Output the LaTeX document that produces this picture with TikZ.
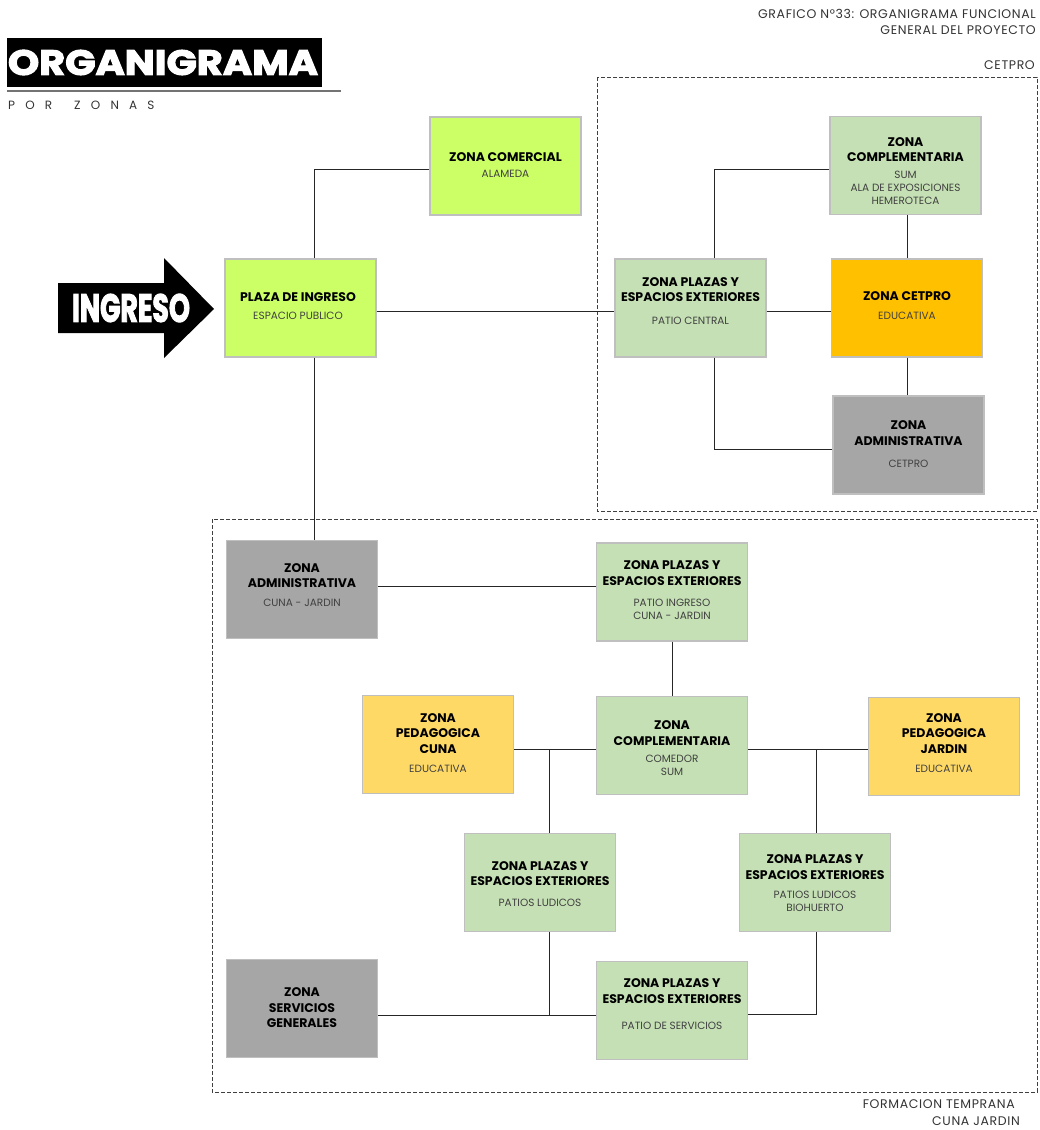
\documentclass[tikz,border=0pt]{standalone}
\usepackage{fontspec}
\usepackage{graphicx}
\setmainfont{Poppins}
\newfontfamily\heavy[FakeBold=3]{Poppins}
\newfontfamily\spaced[LetterSpace=85]{Poppins}
\definecolor{limeG}{HTML}{CCFF66}
\definecolor{paleG}{HTML}{C5E0B4}
\definecolor{orangeC}{HTML}{FFC000}
\definecolor{grayZ}{HTML}{A6A6A6}
\definecolor{yellowP}{HTML}{FFD966}
\definecolor{edgeG}{HTML}{BFBFBF}
\definecolor{subT}{HTML}{404040}
\newcommand\tb[1]{{\bfseries #1}}
\newcommand\ts[1]{{\color{subT}\fontsize{10.5}{15.5}\selectfont #1}}
\tikzset{
  zbox/.style={draw=edgeG, line width=1.3pt, minimum width=151pt, minimum height=98pt, inner sep=0pt},
  zt/.style={align=center, inner sep=0pt, font=\fontsize{12.5}{15.5}\selectfont},
  con/.style={draw=black!85, line width=0.9pt},
  frame/.style={draw=black!75, dash pattern=on 4pt off 2pt, line width=0.9pt},
  lbl/.style={inner sep=0pt, font=\addfontfeature{LetterSpace=5}\fontsize{12.5}{14}\selectfont, text=black!80},
  sub/.style={inner sep=0pt, anchor=west, text=black!80, font=\spaced\fontsize{12}{14}\selectfont}
}
\begin{document}
\begin{tikzpicture}[x=1pt,y=-1pt]
\useasboundingbox (0,0) rectangle (1040,1130);
% frames
\draw[frame] (597,77) rectangle (1037,511);
\draw[frame] (212,519) rectangle (1037,1092);
% header
\node[lbl, anchor=east] (h1) at (1036,14) {GRAFICO N°33: ORGANIGRAMA FUNCIONAL};
\node[lbl, anchor=east] (h2) at (1036,30) {GENERAL DEL PROYECTO};
\node[lbl, anchor=east] (h3) at (1035,65) {CETPRO};
\node[lbl, anchor=east] (f1) at (1015,1104) {FORMACION TEMPRANA};
\node[lbl, anchor=east] (f2) at (1020,1121) {CUNA JARDIN};
% title
\fill[black] (7,38) rectangle (322,87);
\node[inner sep=0pt, text=white] (title) at (163,62.5) {\resizebox{310pt}{25pt}{\heavy\bfseries ORGANIGRAMA}};
\draw[black!55, line width=1.3pt] (7,91) -- (341,91);
\node[sub] (sub1) at (8,105) {POR};
\node[sub] (sub2) at (74,105) {ZONAS};
% arrow
\fill[black] (58,283) -- (164,283) -- (164,258) -- (214,309) -- (164,358) -- (164,333) -- (58,333) -- cycle;
\node[inner sep=0pt, text=white] (ing) at (131,308) {\resizebox{118pt}{28pt}{\heavy\bfseries INGRESO}};
% boxes
\node[zbox, fill=limeG] (com) at (505.5,166) {};
\node[zt] at (505.5,165) {\tb{ZONA COMERCIAL}\\[0.5pt]\ts{ALAMEDA}};
\node[zbox, fill=limeG] (plz) at (300.5,308) {};
\node[zt] at (298,306) {\tb{PLAZA DE INGRESO}\\[2.5pt]\ts{ESPACIO PUBLICO}};
\node[zbox, fill=paleG] (pc) at (690.5,308) {};
\node[zt] at (690.5,301) {\tb{ZONA PLAZAS Y}\\\tb{ESPACIOS EXTERIORES}\\[7.5pt]\ts{PATIO CENTRAL}};
\node[zbox, fill=paleG] (cmpT) at (905.5,165.5) {};
\node[zt] at (905.5,171) {\tb{ZONA}\\\tb{COMPLEMENTARIA}\\[1.5pt]\ts{SUM}\\[-2.5pt]\ts{ALA DE EXPOSICIONES}\\[-2.5pt]\ts{HEMEROTECA}};
\node[zbox, fill=orangeC] (cet) at (907,308) {};
\node[zt] at (907,306) {\tb{ZONA CETPRO}\\[3.5pt]\ts{EDUCATIVA}};
\node[zbox, fill=grayZ] (admC) at (908.5,445) {};
\node[zt] at (908.5,444) {\tb{ZONA}\\\tb{ADMINISTRATIVA}\\[6.5pt]\ts{CETPRO}};
\node[zbox, fill=grayZ] (admJ) at (302,589.5) {};
\node[zt] at (302,585) {\tb{ZONA}\\\tb{ADMINISTRATIVA}\\[3.5pt]\ts{CUNA - JARDIN}};
\node[zbox, fill=paleG] (pi) at (672,592) {};
\node[zt] at (672,590) {\tb{ZONA PLAZAS Y}\\\tb{ESPACIOS EXTERIORES}\\[5.5pt]\ts{PATIO INGRESO}\\[-2.5pt]\ts{CUNA - JARDIN}};
\node[zbox, fill=yellowP] (pcu) at (438,744.5) {};
\node[zt] at (438,743) {\tb{ZONA}\\\tb{PEDAGOGICA}\\\tb{CUNA}\\[3.5pt]\ts{EDUCATIVA}};
\node[zbox, fill=paleG] (cmpL) at (672,745.5) {};
\node[zt] at (672,748) {\tb{ZONA}\\\tb{COMPLEMENTARIA}\\[1.5pt]\ts{COMEDOR}\\[-2.5pt]\ts{SUM}};
\node[zbox, fill=yellowP] (pja) at (944,746.5) {};
\node[zt] at (944,743) {\tb{ZONA}\\\tb{PEDAGOGICA}\\\tb{JARDIN}\\[3.5pt]\ts{EDUCATIVA}};
\node[zbox, fill=paleG] (lud) at (540,882.5) {};
\node[zt] at (540,884) {\tb{ZONA PLAZAS Y}\\\tb{ESPACIOS EXTERIORES}\\[5.5pt]\ts{PATIOS LUDICOS}};
\node[zbox, fill=paleG] (bio) at (815,882.5) {};
\node[zt] at (815,883) {\tb{ZONA PLAZAS Y}\\\tb{ESPACIOS EXTERIORES}\\[3.5pt]\ts{PATIOS LUDICOS}\\[-2.5pt]\ts{BIOHUERTO}};
\node[zbox, fill=grayZ] (sg) at (302,1008.5) {};
\node[zt] at (302,1008) {\tb{ZONA}\\\tb{SERVICIOS}\\\tb{GENERALES}};
\node[zbox, fill=paleG] (ps) at (672,1010.5) {};
\node[zt] at (672,1004) {\tb{ZONA PLAZAS Y}\\\tb{ESPACIOS EXTERIORES}\\[10.5pt]\ts{PATIO DE SERVICIOS}};
% connectors
\draw[con] ([xshift=13.5pt]plz.north) |- ([yshift=-3pt]com.west);
\draw[con] ([yshift=-3pt]plz.east) -- ([yshift=-3pt]pc.west);
\draw[con] ([yshift=-3pt]pc.east) -- ([yshift=-3pt]cet.west);
\draw[con] ([xshift=23.5pt]pc.north) |- ([yshift=-3.5pt]cmpT.west);
\draw[con] (cet.north |- cmpT.south) -- (cet.north);
\draw[con] (cet.south) -- (cet.south |- admC.north);
\draw[con] ([xshift=23.5pt]pc.south) |- ([yshift=-4pt]admC.west);
\draw[con] ([xshift=13.5pt]plz.south) coordinate (a1) -- (a1 |- admJ.north);
\draw[con] ([yshift=3.5pt]admJ.east) coordinate (a2) -- (a2 -| pi.west);
\draw[con] (pi.south) -- (cmpL.north);
\draw[con] ([yshift=-4.5pt]pcu.east) coordinate (a3) -- (a3 -| cmpL.west);
\draw[con] ([xshift=9pt]lud.north) coordinate (a4) -- (a4 |- a3);
\draw[con] ([yshift=-3.5pt]cmpL.east) coordinate (a5) -- (a5 -| pja.west);
\draw[con] ([xshift=1pt]bio.north) coordinate (a6) -- (a6 |- a5);
\draw[con] ([yshift=-6.5pt]sg.east) coordinate (a7) -- (a7 -| ps.west);
\draw[con] ([xshift=9pt]lud.south) coordinate (a8) -- (a8 |- a7);
\draw[con] ([xshift=1pt]bio.south) |- ([yshift=-3.5pt]ps.east);
\end{tikzpicture}
\end{document}
